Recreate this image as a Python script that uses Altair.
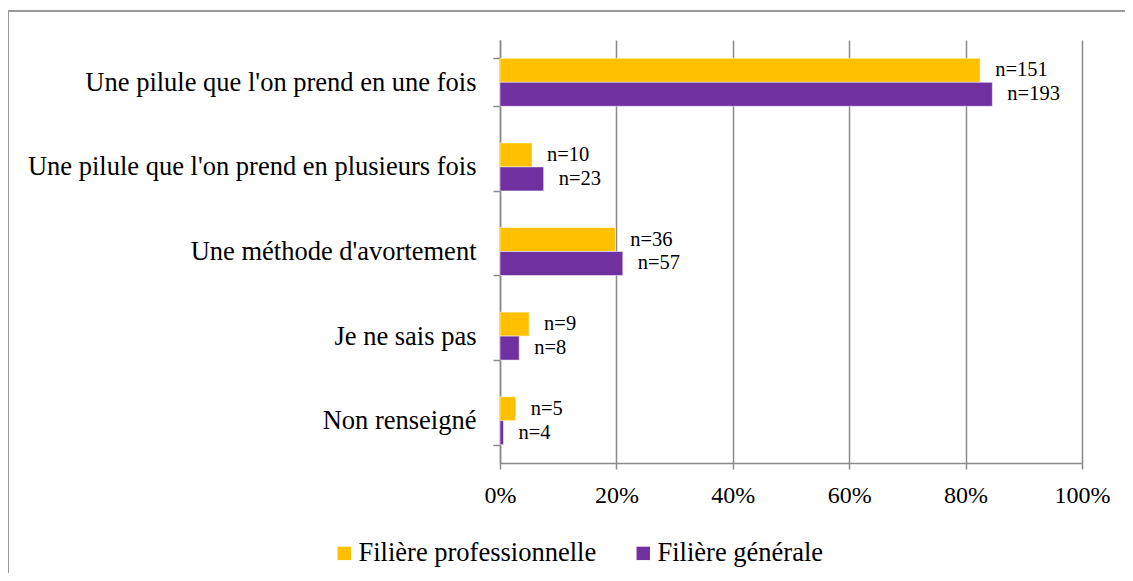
import altair as alt
import pandas as pd

categories = [
    "Une pilule que l'on prend en une fois",
    "Une pilule que l'on prend en plusieurs fois",
    "Une méthode d'avortement",
    "Je ne sais pas",
    "Non renseigné",
]
series = ["Filière professionnelle", "Filière générale"]
pct_pro = [82.5, 5.5, 19.8, 5.0, 2.7]
pct_gen = [84.6, 7.5, 21.1, 3.3, 0.6]
n_pro = [151, 10, 36, 9, 5]
n_gen = [193, 23, 57, 8, 4]
x_ticks = [0, 20, 40, 60, 80, 100]

rows = []
for c, p, n in zip(categories, pct_pro, n_pro):
    rows.append({"cat": c, "serie": series[0], "pct": p, "lab": f"n={n}"})
for c, p, n in zip(categories, pct_gen, n_gen):
    rows.append({"cat": c, "serie": series[1], "pct": p, "lab": f"n={n}"})
df = pd.DataFrame(rows)

FONT = "Liberation Serif"
GRID = "#8a8a8a"

y_enc = alt.Y(
    "cat:N",
    sort=categories,
    title=None,
    scale=alt.Scale(paddingInner=0.433, paddingOuter=0.2165),
    axis=alt.Axis(
        tickBand="extent",
        tickSize=7,
        tickColor=GRID,
        tickWidth=1.5,
        domainColor=GRID,
        domainWidth=1.5,
        labelFont=FONT,
        labelFontSize=26.5,
        labelColor="#000000",
        labelPadding=17,
        labelLimit=600,
        grid=False,
    ),
)
yoff = alt.YOffset("serie:N", sort=series)
x_enc = alt.X(
    "pct:Q",
    title=None,
    scale=alt.Scale(domain=[0, 100], nice=False),
    axis=alt.Axis(
        values=x_ticks,
        labelExpr="datum.value + '%'",
        labelFlush=False,
        grid=True,
        gridColor=GRID,
        gridWidth=1.5,
        domainColor=GRID,
        domainWidth=1.5,
        tickColor=GRID,
        tickWidth=1.5,
        tickSize=6,
        labelFont=FONT,
        labelFontSize=24,
        labelColor="#000000",
        labelPadding=14,
    ),
)

color = alt.Color(
    "serie:N",
    sort=series,
    scale=alt.Scale(domain=series, range=["#FFC000", "#7030A0"]),
    legend=alt.Legend(
        title=None,
        orient="none",
        legendX=-169,
        legendY=500,
        direction="horizontal",
        symbolType="square",
        symbolSize=180,
        symbolStrokeWidth=0,
        labelFont=FONT,
        labelFontSize=26.5,
        labelColor="#000000",
        labelOffset=1,
        columnPadding=33,
        labelLimit=600,
    ),
)

bars = alt.Chart(df).mark_bar(stroke="white", strokeWidth=0.5).encode(
    x=x_enc, y=y_enc, yOffset=yoff, color=color
)

texts = alt.Chart(df).mark_text(
    align="left", baseline="middle", dx=15, font=FONT, fontSize=20.5, color="#000000"
).encode(x="pct:Q", y=alt.Y("cat:N", sort=categories), yOffset=yoff, text="lab:N")

frame_top = alt.Chart(df).mark_rule(color="#9a9a9a", strokeWidth=2, clip=False).encode(
    x=alt.value(-492), x2=alt.value(800), y=alt.value(-29)
)
frame_left = alt.Chart(df).mark_rule(color="#9a9a9a", strokeWidth=2, clip=False).encode(
    x=alt.value(-492), y=alt.value(-29), y2=alt.value(700)
)

chart = alt.layer(frame_top, frame_left, bars, texts).properties(
    width=582,
    height=423,
    autosize=alt.AutoSizeParams(type="none"),
    padding={"left": 492, "top": 32, "right": 43, "bottom": 110},
).configure(background="white", font=FONT).configure_view(stroke=None).configure_text(
    font=FONT
).configure_axis(labelFont=FONT).configure_legend(labelFont=FONT)

chart.save("out.html", embed_options={"renderer": "svg", "actions": False})
